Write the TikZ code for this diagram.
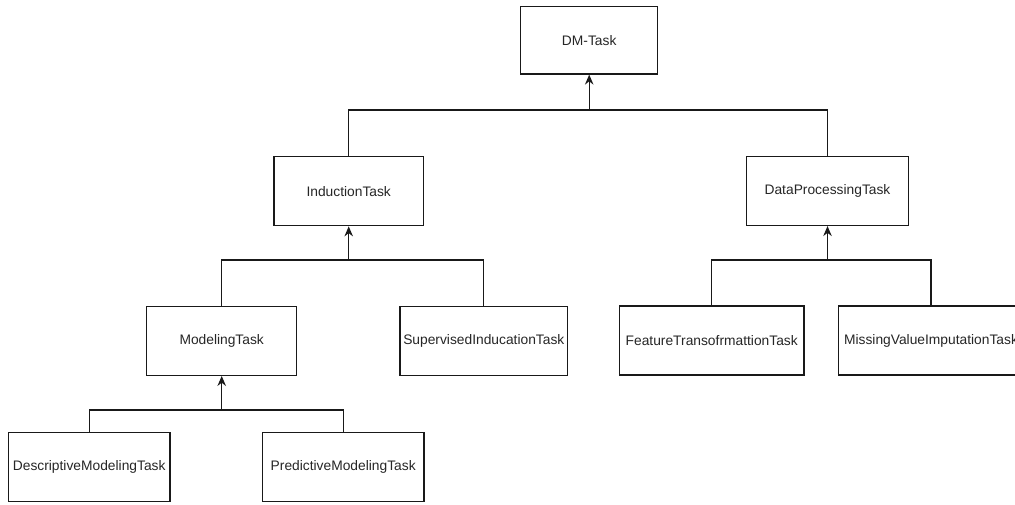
\documentclass[tikz,border=0pt]{standalone}
\usepackage{fontspec}
\setmainfont{Liberation Sans}
\usetikzlibrary{arrows.meta}
\begin{document}
\begin{tikzpicture}[x=1pt,y=-1pt,
  box/.style={draw=black!90,line width=1.3pt,fill=white,minimum height=69pt,inner sep=0pt,
    font=\fontsize{13.8}{16}\selectfont,text=black!85},
  conn/.style={draw=black!90,line width=1.3pt,line join=miter},
  arr/.style={conn,-{Stealth[length=10pt,width=8.5pt]}}]
\useasboundingbox (0,0) rectangle (1015,504);
\node[box,minimum width=137pt,minimum height=67.3pt] (dm) at (589.2,40.3) {DM-Task};
\node[box,minimum width=149.3pt] (ind) at (348.7,191.2) {InductionTask};
\node[box,minimum width=161.6pt] (dp) at (827.5,190.9) {DataProcessingTask};
\node[box,minimum width=150pt] (mod) at (221.7,340.8) {ModelingTask};
\node[box,minimum width=167.7pt] (sup) at (483.8,340.8) {SupervisedInducationTask};
\node[box,minimum width=184.7pt] (feat) at (711.7,340.6) {FeatureTransofrmattionTask};
\node[box,minimum width=184.7pt] (miss) at (931,340.6) {MissingValueImputationTask};
\node[box,minimum width=161.7pt] (desc) at (89.2,467.2) {DescriptiveModelingTask};
\node[box,minimum width=161.7pt] (pred) at (343.2,467.2) {PredictiveModelingTask};
\coordinate (j1) at (589.2,110);
\coordinate (j2) at (348.7,260);
\coordinate (j3) at (827.5,260);
\coordinate (j4) at (221.7,410);
\draw[conn] (ind.north) |- (j1) -| (dp.north);
\draw[arr] (j1) -- (dm.south);
\draw[conn] (mod.north) |- (j2) -| (sup.north);
\draw[arr] (j2) -- (ind.south);
\draw[conn] (feat.north) |- (j3) -| (miss.north);
\draw[arr] (j3) -- (dp.south);
\draw[conn] (desc.north) |- (j4) -| (pred.north);
\draw[arr] (j4) -- (mod.south);
\end{tikzpicture}
\end{document}
